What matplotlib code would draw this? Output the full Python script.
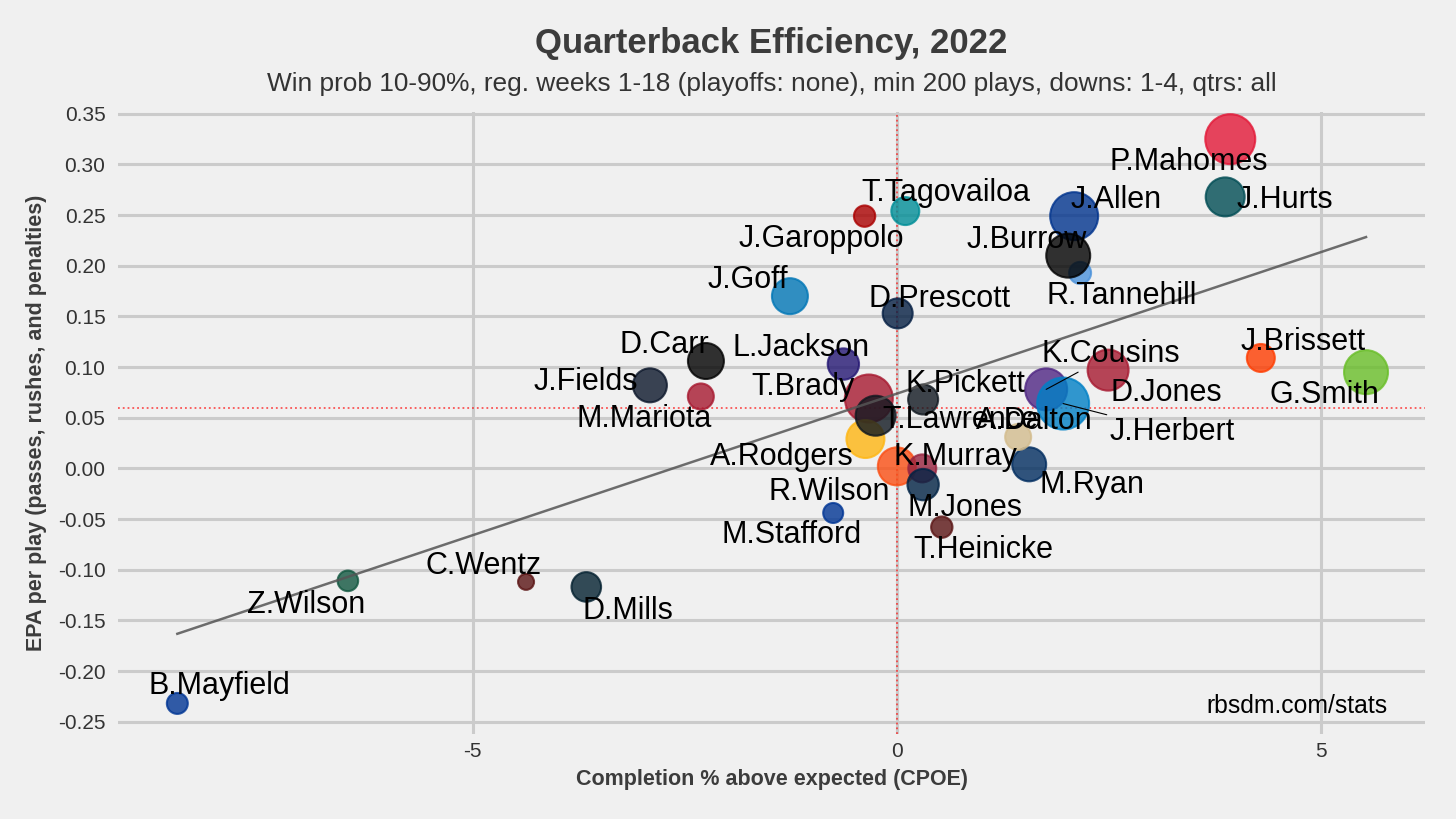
import numpy as np
import matplotlib
matplotlib.use("Agg")
import matplotlib.pyplot as plt

plt.rcParams['font.family'] = ['Liberation Sans', 'DejaVu Sans']
plt.rcParams['axes.unicode_minus'] = False

# players in drawing order (older players first, later ones sit on top)
players = ["T.Brady", "A.Rodgers", "M.Ryan", "M.Stafford", "A.Dalton", "K.Cousins",
           "R.Wilson", "R.Tannehill", "D.Carr", "J.Garoppolo", "G.Smith", "M.Mariota",
           "J.Brissett", "C.Wentz", "J.Goff", "D.Prescott", "T.Heinicke", "P.Mahomes",
           "B.Mayfield", "J.Allen", "L.Jackson", "K.Murray", "D.Jones", "D.Mills",
           "J.Burrow", "J.Herbert", "T.Tagovailoa", "J.Hurts", "T.Lawrence", "J.Fields",
           "Z.Wilson", "M.Jones", "K.Pickett"]
team_colors = ["#a71930", "#ffb612", "#002c5f", "#003594", "#d3bc8d", "#4f2683",
               "#fb4f14", "#4b92db", "#000000", "#aa0000", "#69be28", "#a71930",
               "#ff3c00", "#5a1414", "#0076b6", "#041e42", "#5a1414", "#e31837",
               "#003594", "#00338d", "#241773", "#97233f", "#a71930", "#03202f",
               "#000000", "#0080c6", "#008e97", "#004c54", "#101820", "#0b162a",
               "#125740", "#002244", "#101820"]
cpoe = [-0.33, -0.37, 1.56, -0.75, 1.43, 1.76,
        0.00, 2.16, -2.25, -0.38, 5.53, -2.31,
        4.29, -4.37, -1.26, 0.01, 0.53, 3.93,
        -8.48, 2.09, -0.63, 0.30, 2.49, -3.66,
        2.02, 1.96, 0.10, 3.87, -0.25, -2.91,
        -6.47, 0.31, 0.31]
epa = [0.069, 0.029, 0.004, -0.044, 0.031, 0.078,
       0.002, 0.193, 0.106, 0.249, 0.095, 0.071,
       0.109, -0.112, 0.170, 0.153, -0.058, 0.325,
       -0.232, 0.249, 0.103, 0.000, 0.097, -0.117,
       0.210, 0.064, 0.254, 0.268, 0.052, 0.082,
       -0.111, -0.016, 0.068]
# bubble weight (plays, scaled)
plays = [576, 361, 289, 100, 169, 441,
         361, 121, 324, 114, 484, 169,
         196, 64, 324, 225, 114, 625,
         110, 576, 246, 196, 420, 219,
         484, 676, 196, 380, 400, 289,
         106, 246, 225]
# label offsets from the dot, in pixels (x right, y up)
label_dx = [-66, -84, 63, -42, 16, 65,
            -68, 42, -42, -43, -42, -57,
            42, -42, -42, 42, 42, -42,
            42, 42, -42, 33, 58, 42,
            -42, 109, 41, 60, 85, -64,
            -42, 42, 42]
label_dy = [14, -15, -18, -19, 19, 38,
            -23, -20, 19, -20, -20, -20,
            19, 19, 19, 17, -20, -20,
            20, 19, 19, 14, -20, -21,
            19, -25, 21, 0, -1, 6,
            -21, -20, 19]
leader = ["K.Cousins", "J.Herbert"]

avg_cpoe = 0.0
avg_epa = 0.06
ytick_vals = [-0.25, -0.20, -0.15, -0.10, -0.05, 0.0, 0.05, 0.10, 0.15, 0.20, 0.25, 0.30, 0.35]

bg = "#f0f0f0"
fig = plt.figure(figsize=(14.56, 8.19), dpi=100, facecolor=bg)
ax = fig.add_axes([0.081, 0.104, 0.898, 0.7595], facecolor=bg)

x = np.array(cpoe)
y = np.array(epa)

ax.scatter(x, y, s=np.array(plays) * 2.07, c=team_colors, edgecolors=team_colors,
           linewidths=1.5, alpha=0.8, zorder=3)

# fitted trend across the data range
slope, intercept = np.polyfit(x, y, 1)
xs = np.array([x.min(), x.max()])
ax.plot(xs, slope * xs + intercept, color="#555555", lw=1.8, alpha=0.85, zorder=4)

ax.axhline(avg_epa, color="red", ls=":", lw=1.3, alpha=0.65, zorder=2)
ax.axvline(avg_cpoe, color="red", ls=":", lw=1.3, alpha=0.65, zorder=2)

for i, name in enumerate(players):
    props = None
    if name in leader:
        props = dict(arrowstyle="-", color="black", lw=0.8, shrinkA=0, shrinkB=0)
    # va=center centres the 'lp' box, caps sit ~3px higher
    ax.annotate(name, (x[i], y[i]), xytext=(label_dx[i], label_dy[i] - 3),
                textcoords="offset pixels", ha="center", va="center",
                fontsize=22, color="black", zorder=5, arrowprops=props)

ax.set_xlim(-9.18, 6.23)
ax.set_ylim(-0.262, 0.352)
ax.set_xticks([-5, 0, 5])
ax.set_yticks(ytick_vals)
ax.set_yticklabels([f"{v:.2f}" for v in ytick_vals])
ax.grid(True, color="#cbcbcb", lw=2.2, zorder=0)
ax.set_axisbelow(True)
for sp in ax.spines.values():
    sp.set_visible(False)
ax.tick_params(length=0, labelsize=15, colors="#333333")
ax.tick_params(axis="y", pad=9)
ax.tick_params(axis="x", pad=6)

ax.set_xlabel("Completion % above expected (CPOE)", fontsize=15.5, fontweight="bold",
              color="#3c3c3c", labelpad=6)
ax.set_ylabel("EPA per play (passes, rushes, and penalties)", fontsize=15.5,
              fontweight="bold", color="#3c3c3c", labelpad=8)

# titles are centred over the plotting area
cx = 0.081 + 0.898 / 2
fig.text(cx, 1 - 44 / 819, "Quarterback Efficiency, 2022", ha="center", va="center",
         fontsize=25, fontweight="bold", color="#3c3c3c")
fig.text(cx, 1 - 84 / 819,
         "Win prob 10-90%, reg. weeks 1-18 (playoffs: none), min 200 plays, downs: 1-4, qtrs: all",
         ha="center", va="center", fontsize=18.9, color="#333333")
fig.text(1388 / 1456, 1 - 706 / 819, "rbsdm.com/stats", ha="right", va="center",
         fontsize=17.8, color="black")

fig.savefig("out.png", dpi=100, facecolor=bg)
